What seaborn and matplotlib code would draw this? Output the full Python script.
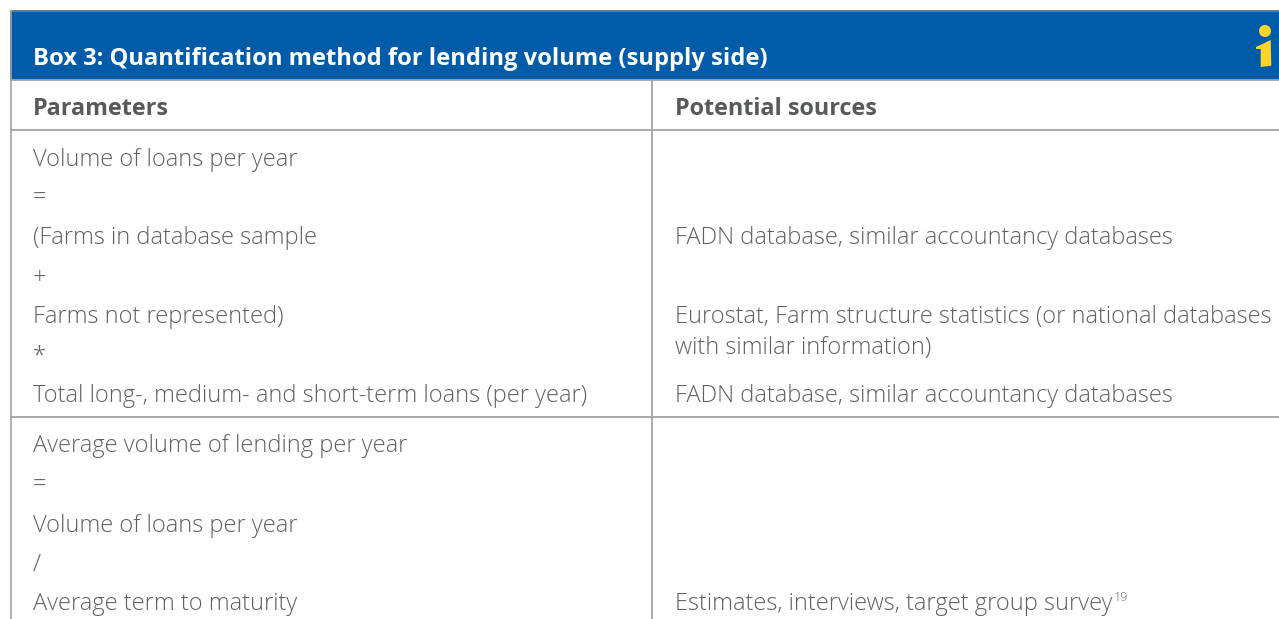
import matplotlib
matplotlib.use("Agg")
import matplotlib.pyplot as plt
from matplotlib.patches import Circle, Polygon, Rectangle
import seaborn as sns

title = "Box 3: Quantification method for lending volume (supply side)"
col_headers = ["Parameters", "Potential sources"]

# texto de la primera columna, por fila
param_lines = [
    "Volume of loans per year", "=", "(Farms in database sample", "+",
    "Farms not represented)", "*", "Total long-, medium- and short-term loans (per year)",
    "Average volume of lending per year", "=", "Volume of loans per year", "/",
    "Average term to maturity",
]
# fila -> fuente
source_rows = [2, 4, 6, 11]
source_lines = [
    "FADN database, similar accountancy databases",
    "Eurostat, Farm structure statistics (or national databases\nwith similar information)",
    "FADN database, similar accountancy databases",
    "Estimates, interviews, target group survey",
]
footnote_mark = "19"

BLUE = "#005CA9"
YELLOW = "#FFD32A"
RULE = "#A3A3A3"
TEXT = "#5F6062"
STRONG = "#58595B"
BODY_SIZE = 17.0

sns.set_theme(style="white")
plt.rcParams["font.family"] = ["Open Sans", "DejaVu Sans"]

fig, ax = plt.subplots(figsize=(12.79, 6.19), dpi=100)
ax.set_position([0, 0, 1, 1])
ax.set_xlim(0, 1279)
ax.set_ylim(619, 0)
ax.axis("off")

# cabecera azul
ax.add_patch(Rectangle((10, 10), 1269, 69.5, fc=BLUE, ec="none"))
ax.hlines(10.5, 10, 1279, color="#808080", lw=1.2, zorder=3)
ax.hlines([80, 130, 417], 10, 1279, color=RULE, lw=1.3)
ax.vlines(10.5, 10, 619, color=RULE, lw=1.2, zorder=3)
ax.vlines(652, 80, 619, color=RULE, lw=1.3)

# icono "i"
ax.add_patch(Circle((1265, 31), 6, fc=YELLOW, ec="none"))
ax.add_patch(Polygon([(1256, 47), (1270.7, 40), (1271.3, 65.7), (1260.7, 67),
                      (1260.7, 49), (1256, 49)], fc=YELLOW, ec="none"))

ax.text(33, 59, title, fontsize=17.1, fontweight="bold", color="white", va="center")
ax.text(33, 109, col_headers[0], fontsize=16.8, fontweight="bold", color=STRONG, va="center")
ax.text(675, 109, col_headers[1], fontsize=16.8, fontweight="bold", color=STRONG, va="center")


def row_y(i):
    # el segundo bloque empieza tras la regla de la fila 7
    return 159.5 + i * 39.4 if i < 7 else 446.5 + (i - 7) * 39.5


for i, line in enumerate(param_lines):
    ax.text(33, row_y(i), line, fontsize=BODY_SIZE, fontweight="light", color=TEXT, va="center")

last = None
for r, line in zip(source_rows, source_lines):
    parts = line.split("\n")
    if len(parts) == 2:
        ax.text(675, row_y(r), parts[0], fontsize=BODY_SIZE, fontweight="light", color=TEXT, va="center")
        ax.text(675, row_y(r) + 31, parts[1], fontsize=BODY_SIZE, fontweight="light", color=TEXT, va="center")
    else:
        last = ax.text(675, row_y(r), line, fontsize=BODY_SIZE, fontweight="light", color=TEXT, va="center")

fig.canvas.draw()
bb = last.get_window_extent()
ax.text(bb.x1 + 1, row_y(11) - 7, footnote_mark, fontsize=9, fontweight="light", color=TEXT, va="center")

fig.savefig("out.png", dpi=100)
